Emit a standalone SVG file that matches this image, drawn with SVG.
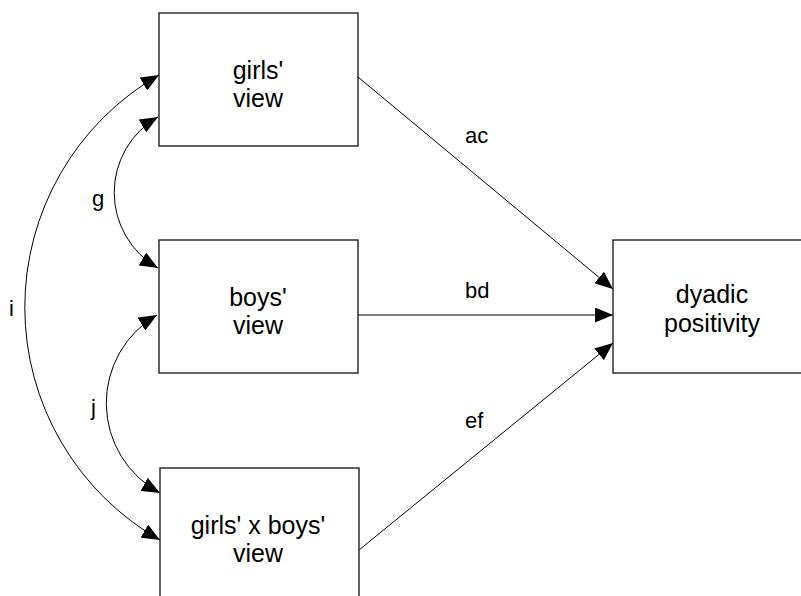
<svg xmlns="http://www.w3.org/2000/svg" width="801" height="596" viewBox="0 0 801 596">
<style>
.box{fill:#fff;stroke:#222;stroke-width:1.4}
.t{font-family:"Liberation Sans",Arial,sans-serif;font-size:25px;fill:#000;text-anchor:middle}
.lbl{font-family:"Liberation Sans",Arial,sans-serif;font-size:22px;fill:#000}
.c{fill:none;stroke:#000;stroke-width:1}
</style>
<defs>
<marker id="ah" markerUnits="userSpaceOnUse" markerWidth="18" markerHeight="15" refX="18" refY="7.5" orient="auto-start-reverse" viewBox="0 0 18 15">
<path d="M0,0 L18,7.5 L0,15 z" fill="#000"/>
</marker>
</defs>
<rect width="801" height="596" fill="#fff"/>
<g id="connectors">
<line class="c" x1="358" y1="77" x2="613" y2="289" marker-end="url(#ah)"/>
<line class="c" x1="358" y1="315" x2="613" y2="315" marker-end="url(#ah)"/>
<line class="c" x1="359" y1="550" x2="613" y2="343" marker-end="url(#ah)"/>
<path class="c" d="M158,117 A 87 87 0 0 0 158,268" marker-start="url(#ah)" marker-end="url(#ah)"/>
<path class="c" d="M157,315 A 102 102 0 0 0 160,493" marker-start="url(#ah)" marker-end="url(#ah)"/>
<path class="c" d="M159,75 A 268 268 0 0 0 160,540" marker-start="url(#ah)" marker-end="url(#ah)"/>
<text class="lbl" x="465" y="143">ac</text>
<text class="lbl" x="465" y="298">bd</text>
<text class="lbl" x="465" y="428">ef</text>
<text class="lbl" x="92" y="206">g</text>
<text class="lbl" x="9" y="316">i</text>
<text class="lbl" x="91" y="415">j</text>
</g>
<g id="girls">
<rect class="box" x="159" y="13" width="199" height="133"/>
<text class="t" x="258" y="79">girls'</text>
<text class="t" x="258" y="107">view</text>
</g>
<g id="boys">
<rect class="box" x="159" y="240" width="199" height="133"/>
<text class="t" x="258" y="306">boys'</text>
<text class="t" x="258" y="334">view</text>
</g>
<g id="interaction">
<rect class="box" x="160" y="468" width="199" height="140"/>
<text class="t" x="258" y="534">girls' x boys'</text>
<text class="t" x="258" y="562">view</text>
</g>
<g id="dyadic">
<rect class="box" x="613" y="240" width="200" height="133"/>
<text class="t" x="712" y="303">dyadic</text>
<text class="t" x="712" y="332">positivity</text>
</g>
</svg>
